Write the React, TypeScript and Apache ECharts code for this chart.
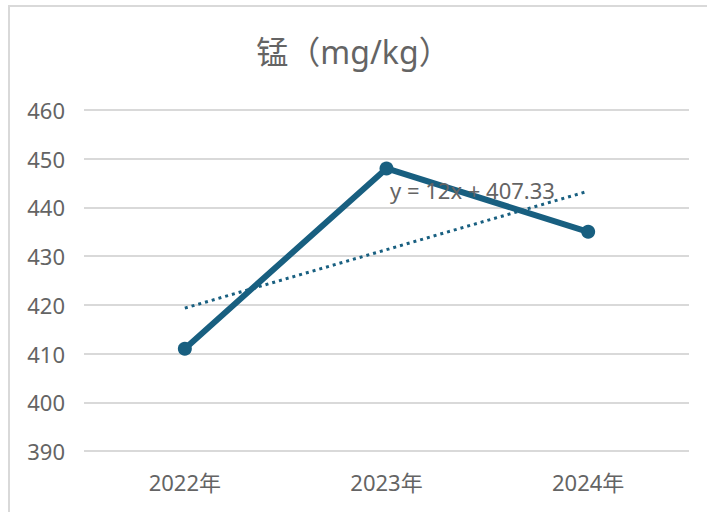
import React, { useEffect, useRef } from "react";
import * as echarts from "echarts";

const categories = ["2022年", "2023年", "2024年"];
const values = [411, 448, 435];
const trendValues = [419.33, 431.33, 443.33];
const trendLabel = "y = 12x + 407.33";
const titleText = "锰（mg/kg）";

export default function App() {
  const ref = useRef<HTMLDivElement>(null);
  useEffect(() => {
    if (!ref.current) return;
    const chart = echarts.init(ref.current, null, { renderer: "svg" });
    const font = "'Noto Sans', 'Noto Sans CJK SC', sans-serif";
    const textColor = "#646464";
    chart.setOption({
      animation: false,
      backgroundColor: "#ffffff",
      textStyle: { fontFamily: font },
      title: {
        text: titleText,
        left: "center",
        top: 30,
        textStyle: { fontSize: 32, fontWeight: "normal", color: textColor, fontFamily: font },
      },
      grid: { left: 84, right: 18, top: 110, bottom: 61 },
      xAxis: {
        type: "category",
        data: categories,
        boundaryGap: true,
        axisLine: { show: false },
        axisTick: { show: false },
        axisLabel: { fontSize: 22, color: textColor, margin: 20, fontFamily: font },
      },
      yAxis: {
        type: "value",
        min: 390,
        max: 460,
        interval: 10,
        axisLine: { show: false },
        axisTick: { show: false },
        axisLabel: { fontSize: 22, color: textColor, margin: 19, fontFamily: font },
        splitLine: { lineStyle: { color: "#d9d9d9", width: 2 } },
      },
      graphic: [
        {
          type: "rect",
          shape: { x: 9, y: 6, width: 720, height: 530 },
          style: { fill: "none", stroke: "#d9d9d9", lineWidth: 2 },
          z: 0,
          silent: true,
        },
        {
          type: "text",
          left: 390,
          top: 179,
          z: 100,
          style: { text: trendLabel, fontSize: 22, fill: textColor, fontFamily: font },
        },
      ],
      series: [
        {
          type: "line",
          data: trendValues,
          symbol: "none",
          lineStyle: { color: "#185f80", width: 3, type: [3, 4] },
          z: 2,
        },
        {
          type: "line",
          data: values,
          symbol: "circle",
          symbolSize: 14,
          itemStyle: { color: "#185f80" },
          lineStyle: { color: "#185f80", width: 6 },
          z: 3,
        },
      ],
    });
    return () => chart.dispose();
  }, []);
  return (
    <div
      ref={ref}
      style={{ position: "fixed", left: 0, top: 0, width: 707, height: 512 }}
    />
  );
}
